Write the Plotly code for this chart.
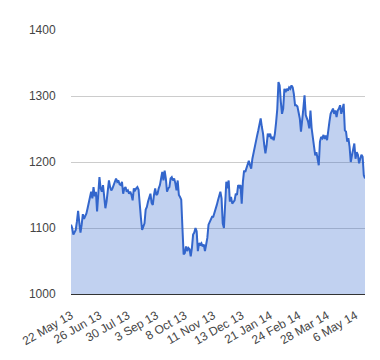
import plotly.graph_objects as go

# Values, one list per tick interval (24 trading days each)
g0 = [1105, 1100, 1090, 1094, 1097, 1110, 1126, 1108, 1093, 1105, 1121, 1114,
      1118, 1122, 1130, 1138, 1150, 1155, 1145, 1162, 1148, 1155, 1125, 1160]
g1 = [1177, 1160, 1155, 1165, 1147, 1130, 1140, 1160, 1172, 1162, 1157, 1160,
      1165, 1170, 1175, 1170, 1172, 1166, 1165, 1170, 1152, 1160, 1162, 1155]
g2 = [1157, 1152, 1155, 1150, 1142, 1160, 1157, 1160, 1162, 1158, 1127, 1115,
      1097, 1102, 1107, 1128, 1132, 1140, 1145, 1152, 1138, 1135, 1150, 1160]
g3 = [1150, 1152, 1160, 1165, 1175, 1185, 1172, 1187, 1175, 1155, 1160, 1162,
      1175, 1177, 1172, 1175, 1168, 1157, 1172, 1150, 1147, 1143, 1100, 1060]
g4 = [1062, 1072, 1065, 1070, 1068, 1057, 1070, 1090, 1093, 1100, 1095, 1065,
      1077, 1075, 1077, 1072, 1075, 1065, 1075, 1085, 1105, 1110, 1115, 1117]
g5 = [1117, 1122, 1127, 1135, 1142, 1150, 1155, 1145, 1107, 1100, 1135, 1170,
      1160, 1172, 1140, 1147, 1137, 1140, 1142, 1152, 1150, 1165, 1162, 1165]
g6 = [1137, 1170, 1187, 1185, 1190, 1195, 1202, 1195, 1190, 1205, 1215, 1225,
      1232, 1240, 1248, 1258, 1266, 1253, 1243, 1226, 1213, 1225, 1243, 1238]
g7 = [1243, 1235, 1238, 1233, 1243, 1260, 1280, 1321, 1316, 1291, 1273, 1281,
      1311, 1306, 1311, 1308, 1313, 1311, 1316, 1313, 1303, 1286, 1286, 1284]
g8 = [1275, 1266, 1246, 1261, 1281, 1301, 1271, 1266, 1261, 1251, 1278, 1251,
      1236, 1226, 1210, 1215, 1205, 1195, 1231, 1238, 1236, 1241, 1235, 1240]
g9 = [1233, 1250, 1261, 1273, 1276, 1281, 1273, 1278, 1268, 1278, 1281, 1286,
      1273, 1280, 1288, 1248, 1246, 1231, 1236, 1223, 1200, 1210, 1220, 1228]
g10 = [1205, 1215, 1211, 1198, 1205, 1211, 1208, 1180, 1175]

tick_labels = ["22 May 13", "26 Jun 13", "30 Jul 13", "3 Sep 13", "8 Oct 13",
               "11 Nov 13", "13 Dec 13", "21 Jan 14", "24 Feb 14", "28 Mar 14",
               "6 May 14"]
tick_every = 24
y_ticks = [1000, 1100, 1200, 1300, 1400]

values = g0 + g1 + g2 + g3 + g4 + g5 + g6 + g7 + g8 + g9 + g10
x = list(range(len(values)))
tick_pos = [i * tick_every for i in range(len(tick_labels))]

fig = go.Figure()
fig.add_trace(go.Scatter(
    x=x, y=values, mode="lines",
    line=dict(color="#3366cc", width=2),
    fill="tozeroy", fillcolor="rgba(51,102,204,0.3)",
    hoverinfo="skip",
))

font = dict(family="Liberation Sans, Arial, sans-serif", size=12, color="#444444")
fig.update_layout(
    width=372, height=352,
    margin=dict(l=58, r=15, t=22, b=64),
    paper_bgcolor="white", plot_bgcolor="white",
    showlegend=False, font=font,
)
fig.update_xaxes(
    range=[0, len(values) - 1],
    tickmode="array", tickvals=tick_pos, ticktext=tick_labels,
    tickangle=-30, showgrid=False, zeroline=False,
    showline=True, linecolor="#333333", linewidth=1,
    ticks="outside", ticklen=9, tickcolor="rgba(0,0,0,0)",
    tickfont=font,
)
fig.update_yaxes(
    range=[1000, 1400], tickmode="array", tickvals=y_ticks,
    showgrid=True, gridcolor="#cccccc", gridwidth=1, zeroline=False,
    ticks="outside", ticklen=12, tickcolor="rgba(0,0,0,0)",
    tickfont=font,
)
fig.write_html("out.html")
